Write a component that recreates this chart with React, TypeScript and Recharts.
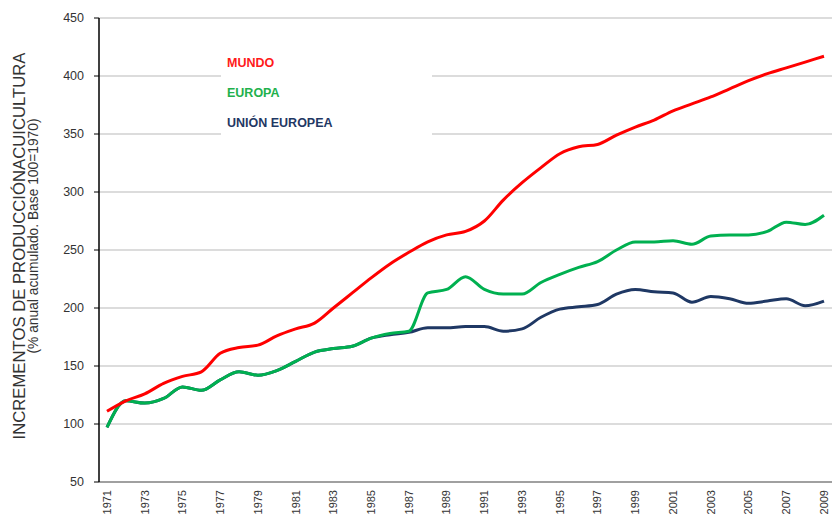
import { LineChart, Line, XAxis, YAxis, CartesianGrid, Legend } from 'recharts';

const years = [
  1971, 1972, 1973, 1974, 1975, 1976, 1977, 1978, 1979, 1980,
  1981, 1982, 1983, 1984, 1985, 1986, 1987, 1988, 1989, 1990,
  1991, 1992, 1993, 1994, 1995, 1996, 1997, 1998, 1999, 2000,
  2001, 2002, 2003, 2004, 2005, 2006, 2007, 2008, 2009,
];

const yearTicks = [
  1971, 1973, 1975, 1977, 1979, 1981, 1983, 1985, 1987, 1989,
  1991, 1993, 1995, 1997, 1999, 2001, 2003, 2005, 2007, 2009,
];

const valueTicks = [50, 100, 150, 200, 250, 300, 350, 400, 450];

const mundo = [
  111, 120, 126, 135, 141, 145, 161, 166, 168, 176,
  182, 187, 200, 213, 226, 238, 248, 257, 263, 266,
  275, 293, 308, 321, 333, 339, 341, 349, 356, 362,
  370, 376, 382, 389, 396, 402, 407, 412, 417,
];

const europa = [
  97, 120, 118, 122, 132, 129, 138, 145, 142, 146,
  154, 162, 165, 167, 174, 178, 180, 213, 216, 227,
  216, 212, 212, 222, 229, 235, 240, 250, 257, 257,
  258, 255, 262, 263, 263, 266, 274, 272, 280,
];

const unionEuropea = [
  97, 120, 118, 122, 132, 129, 138, 145, 142, 146,
  154, 162, 165, 167, 174, 177, 179, 183, 183, 184,
  184, 180, 182, 192, 199, 201, 203, 212, 216, 214,
  213, 205, 210, 208, 204, 206, 208, 202, 206,
];

const data = years.map((year, i) => ({
  year,
  mundo: mundo[i],
  europa: europa[i],
  ue: unionEuropea[i],
}));

const legendItems = [
  { label: 'MUNDO', color: '#ff1a1a' },
  { label: 'EUROPA', color: '#22b14c' },
  { label: 'UNIÓN EUROPEA', color: '#1f3864' },
];

const font = '"Liberation Sans", Arial, sans-serif';

const YearTick = ({ x, y, payload }: any) => (
  <text
    transform={`translate(${x},${y}) rotate(-90)`}
    textAnchor="end"
    dy="0.35em"
    fontSize={11}
    fontFamily={font}
    fill="#333"
  >
    {payload.value}
  </text>
);

const AxisTitle = () => (
  <g fill="#333" fontFamily={font}>
    <text transform="translate(25,246) rotate(-90)" textAnchor="middle" fontSize={16.7}>
      INCREMENTOS DE PRODUCCIÓNACUICULTURA
    </text>
    <text transform="translate(38,236) rotate(-90)" textAnchor="middle" fontSize={13.8}>
      (% anual acumulado. Base 100=1970)
    </text>
  </g>
);

const LegendBox = () => (
  <div style={{ position: 'relative', width: 211, height: 92, background: '#fff' }}>
    {legendItems.map((item, i) => (
      <div
        key={item.label}
        style={{
          position: 'absolute',
          left: 6,
          top: 6 + i * 30,
          fontFamily: font,
          fontWeight: 'bold',
          fontSize: 12.5,
          color: item.color,
          whiteSpace: 'nowrap',
        }}
      >
        {item.label}
      </div>
    ))}
  </div>
);

export default function App() {
  return (
    <div style={{ position: 'absolute', left: 0, top: 0, width: 832, height: 519, background: '#fff' }}>
      <LineChart width={832} height={519} data={data} margin={{ top: 18, right: 0, bottom: 0, left: 0 }}>
        <CartesianGrid vertical={false} stroke="#d0d0d0" strokeWidth={1.5} />
        <XAxis
          dataKey="year"
          type="number"
          domain={[1971, 2009]}
          ticks={yearTicks}
          interval={0}
          padding={{ left: 8, right: 8 }}
          height={37}
          tickLine={false}
          tickSize={0}
          tickMargin={8}
          tick={<YearTick />}
          axisLine={{ stroke: '#8c8c8c', strokeWidth: 1.5 }}
        />
        <YAxis
          domain={[50, 450]}
          ticks={valueTicks}
          width={99}
          tickSize={5}
          tickMargin={10}
          tick={{ fontSize: 12.5, fontFamily: font, fill: '#333' }}
          axisLine={{ stroke: '#000', strokeWidth: 1.5 }}
          tickLine={{ stroke: '#000' }}
          label={{ content: () => <AxisTitle /> }}
        />
        <Legend
          layout="vertical"
          align="center"
          verticalAlign="middle"
          content={() => <LegendBox />}
          wrapperStyle={{ left: 221, top: 50, width: 211, height: 92 }}
        />
        <Line type="monotone" dataKey="ue" name="UNIÓN EUROPEA" stroke="#1f3864" strokeWidth={3} dot={false} isAnimationActive={false} />
        <Line type="monotone" dataKey="europa" name="EUROPA" stroke="#00b050" strokeWidth={3} dot={false} isAnimationActive={false} />
        <Line type="monotone" dataKey="mundo" name="MUNDO" stroke="#ff0000" strokeWidth={3} dot={false} isAnimationActive={false} />
      </LineChart>
    </div>
  );
}
